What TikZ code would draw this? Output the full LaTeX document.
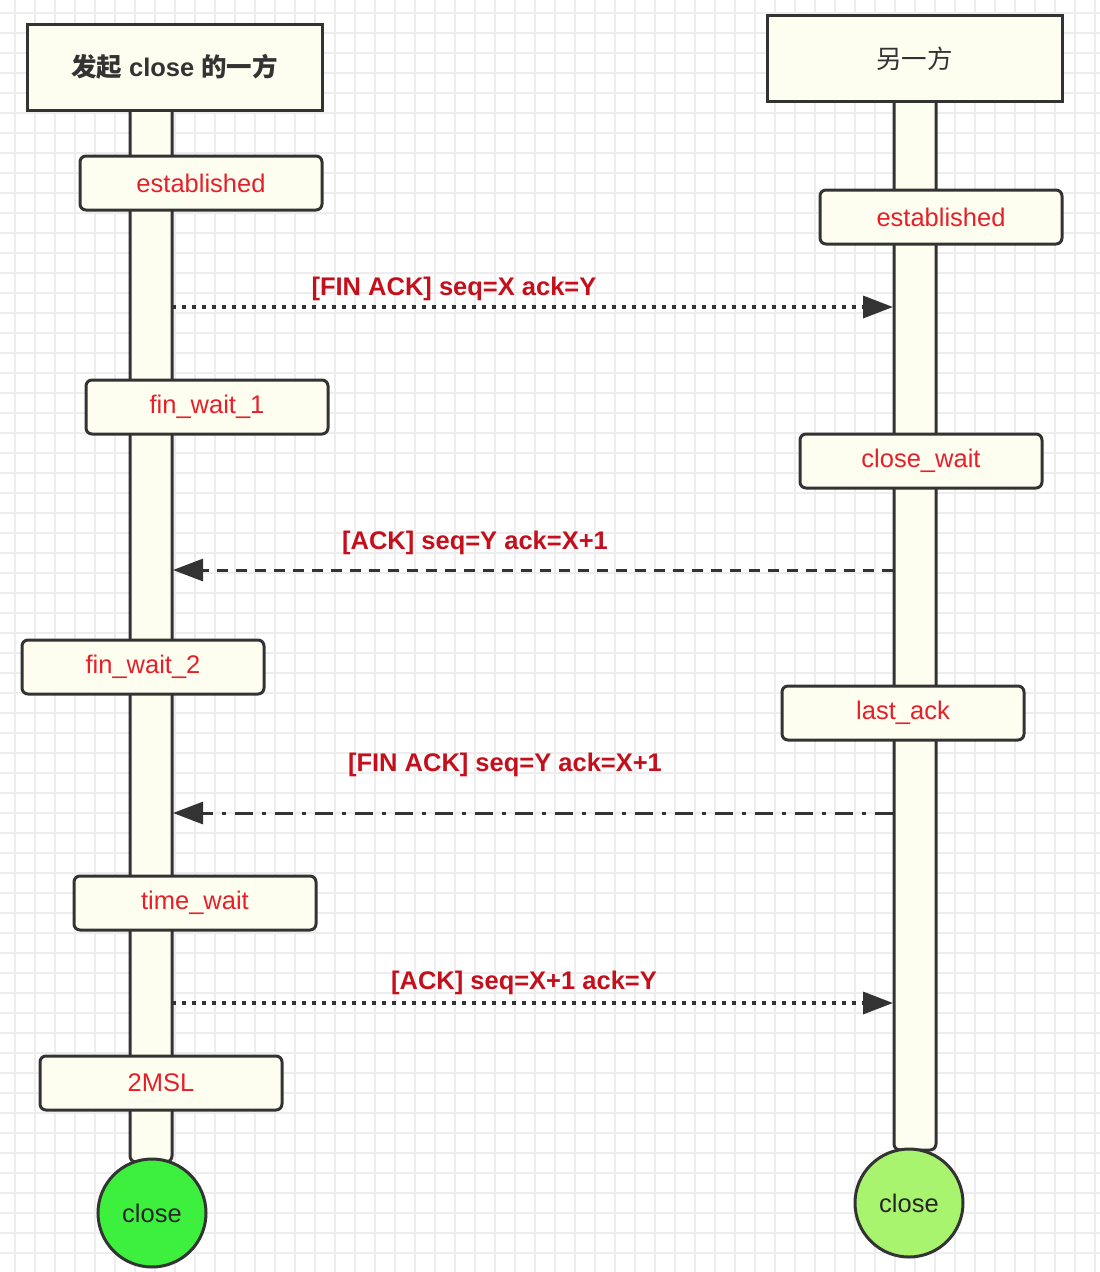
\documentclass[tikz,border=0pt]{standalone}
\usepackage{fontspec}
\setmainfont{Liberation Sans}
\newfontfamily\cjk{Noto Sans CJK SC}
\usetikzlibrary{arrows.meta}
\definecolor{ivory}{HTML}{FEFEF0}
\definecolor{edge}{HTML}{333333}
\definecolor{statered}{HTML}{E5202B}
\definecolor{labelred}{HTML}{C4101C}
\definecolor{gridc}{HTML}{EDEDED}
\definecolor{greenA}{HTML}{3DF03D}
\definecolor{greenB}{HTML}{A8F46E}
\begin{document}
\begin{tikzpicture}[x=1pt,y=-1pt,
  txt/.style={font=\fontsize{25.5}{30}\selectfont},
  header/.style={draw=edge,fill=ivory,line width=3pt,minimum width=295pt,minimum height=86pt,inner sep=0pt,txt,text=edge},
  life/.style={draw=edge,fill=ivory,line width=3pt,rounded corners=6pt},
  statebox/.style={draw=edge,fill=ivory,line width=3pt,rounded corners=6pt,minimum width=242pt,minimum height=54pt,inner sep=0pt,txt,text=statered},
  msg/.style={line width=3pt,draw=edge,-{Triangle[length=30pt,width=22pt]}},
  msglabel/.style={txt,font=\fontsize{25.5}{30}\selectfont\bfseries,text=labelred,inner sep=0pt},
  endnode/.style={circle,draw=edge,line width=3pt,minimum size=108pt,inner sep=0pt,txt,text=black!85},
  dotline/.style={line width=3.5pt,dash pattern=on 3.5pt off 6.5pt},
  dashline/.style={dash pattern=on 11pt off 8pt},
  dashdotline/.style={dash pattern=on 18pt off 9pt on 4pt off 9pt}
]
\useasboundingbox (0,0) rectangle (1100,1272);
\fill[white] (0,0) rectangle (1100,1272);
\foreach \x in {15,35,...,1095} \draw[gridc,line width=1.5pt] (\x,0) -- (\x,1272);
\foreach \y in {13,33,...,1273} \draw[gridc,line width=1.5pt] (0,\y) -- (1100,\y);

% lifelines
\draw[life] (130,100) rectangle (172,1162);
\draw[life] (894,90) rectangle (936,1150);

% headers
\node[header,font=\fontsize{25.5}{30}\selectfont\bfseries] (hL) at (174.5,67) {{\cjk 发起} close {\cjk 的一方}};
\node[header] (hR) at (914.5,58.5) {\cjk 另一方};

% states
\node[statebox] (estL) at (201,183) {established};
\node[statebox] (estR) at (941,217) {established};
\node[statebox] (fw1) at (207,407) {fin\_wait\_1};
\node[statebox] (cw) at (921,461) {close\_wait};
\node[statebox] (fw2) at (143,667) {fin\_wait\_2};
\node[statebox] (la) at (903,713) {last\_ack};
\node[statebox] (tw) at (195,903) {time\_wait};
\node[statebox] (msl) at (161,1083) {2MSL};

% end circles
\node[endnode,fill=greenA] (cL) at (152,1213) {close};
\node[endnode,fill=greenB] (cR) at (909,1203) {close};

% message endpoints
\coordinate (m1a) at (172,307);  \coordinate (m1b) at (893,307);
\coordinate (m2a) at (893,570);  \coordinate (m2b) at (173,570);
\coordinate (m3a) at (893,813);  \coordinate (m3b) at (173,813);
\coordinate (m4a) at (172,1003); \coordinate (m4b) at (893,1003);

\draw[msg,dotline] (m1a) -- (m1b);
\draw[msg,dashline] (m2a) -- (m2b);
\draw[msg,dashdotline] (m3a) -- (m3b);
\draw[msg,dotline] (m4a) -- (m4b);

\node[msglabel] (l1) at (454,289) {[FIN ACK] seq=X ack=Y};
\node[msglabel] (l2) at (475,543) {[ACK] seq=Y ack=X+1};
\node[msglabel] (l3) at (505,765) {[FIN ACK] seq=Y ack=X+1};
\node[msglabel] (l4) at (524,983) {[ACK] seq=X+1 ack=Y};
\end{tikzpicture}
\end{document}
